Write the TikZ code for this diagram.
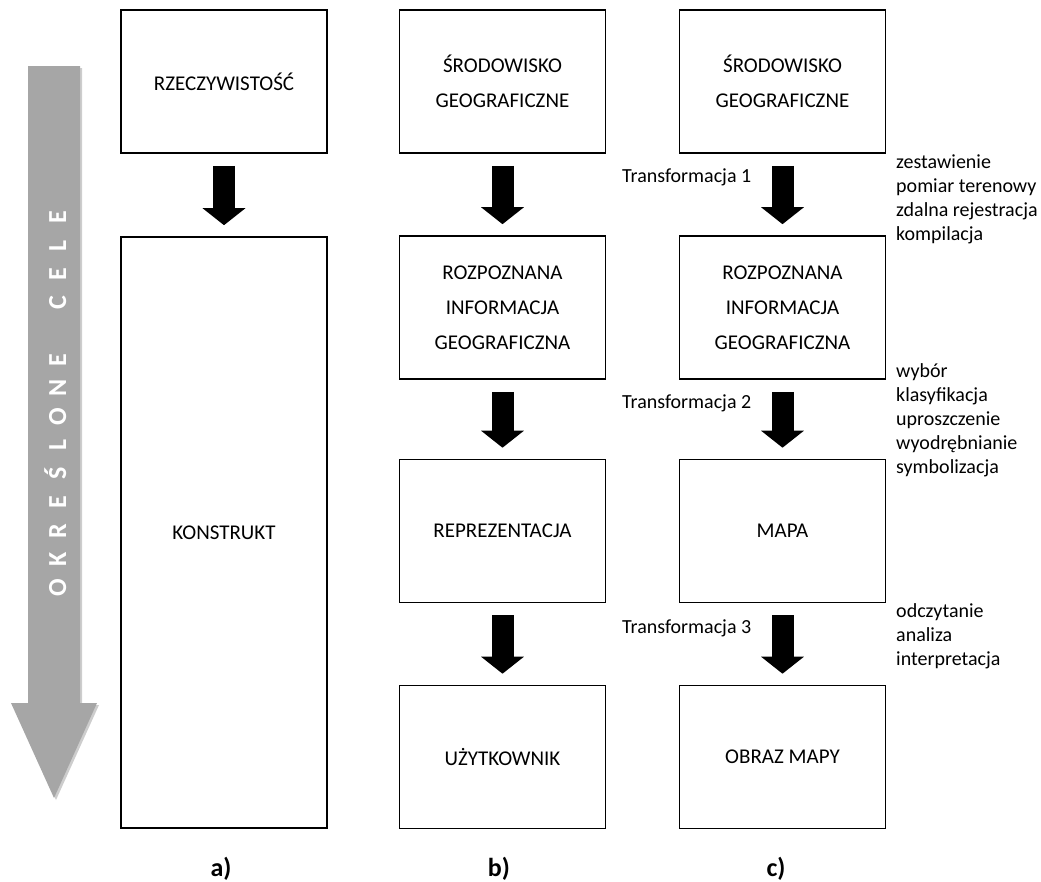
\documentclass[tikz,border=0pt]{standalone}
\usepackage{fontspec}
\setmainfont{Carlito}
\usetikzlibrary{arrows.meta}
\definecolor{goalgray}{HTML}{A6A6A6}
\definecolor{goalshade}{HTML}{CDCDCD}
\tikzset{
  box/.style={draw=black, line width=1.6pt, minimum width=206pt, minimum height=143pt,
    align=center, inner sep=0pt, font=\fontsize{21}{35}\selectfont},
  blockarrow/.style={line width=22pt, -{Triangle[width=42pt,length=17pt]},
    shorten <=12pt, shorten >=11pt},
  trlabel/.style={anchor=base west, inner sep=0pt, font=\fontsize{20}{24}\selectfont},
  steps/.style={anchor=base west, align=left, inner sep=0pt, font=\fontsize{20}{24}\selectfont},
  panel/.style={anchor=north, inner sep=0pt, font=\bfseries\fontsize{26}{30}\selectfont},
  goalletter/.style={rotate=90, anchor=base, inner sep=0pt, text=white,
    font=\bfseries\fontsize{26}{30}\selectfont}
}
\begin{document}
\begin{tikzpicture}[x=1pt,y=-1pt]
  \useasboundingbox (0,0) rectangle (1041,881);

  % large grey arrow with its light shadow
  \fill[goalshade] (30,68) -- (82,68) -- (82,705) -- (99,705) -- (56,800) -- (13,705) -- (30,705) -- cycle;
  \fill[goalgray] (28,66) -- (80,66) -- (80,703) -- (97,703) -- (54,798) -- (11,703) -- (28,703) -- cycle;
  \foreach \ch/\i in {O/0,K/1,R/2,E/3,Ś/4,L/5,O/6,N/7,E/8,C/10,E/11,L/12,E/13}
    \node[goalletter] (g\i) at (66,{588-\i*28.54}) {\ch};

  % column a
  \node[box] (a1) at (224,81.5) {RZECZYWISTOŚĆ};
  \node[box, minimum height=591pt] (a2) at (224,532.5) {KONSTRUKT};

  % column b
  \node[box] (b1) at (502.5,81.5) {ŚRODOWISKO\\GEOGRAFICZNE};
  \node[box] (b2) at (502.5,307.5) {ROZPOZNANA\\INFORMACJA\\GEOGRAFICZNA};
  \node[box] (b3) at (502.5,531) {REPREZENTACJA};
  \node[box] (b4) at (502.5,757) {UŻYTKOWNIK};

  % column c
  \node[box] (c1) at (782.5,81.5) {ŚRODOWISKO\\GEOGRAFICZNE};
  \node[box] (c2) at (782.5,307.5) {ROZPOZNANA\\INFORMACJA\\GEOGRAFICZNA};
  \node[box] (c3) at (782.5,531) {MAPA};
  \node[box] (c4) at (782.5,757) {OBRAZ MAPY};

  % block arrows
  \draw[blockarrow] (a1) -- (a2.north);
  \draw[blockarrow] (b1) -- (b2);
  \draw[blockarrow] (b2) -- (b3);
  \draw[blockarrow] (b3) -- (b4);
  \draw[blockarrow] (c1) -- (c2);
  \draw[blockarrow] (c2) -- (c3);
  \draw[blockarrow] (c3) -- (c4);

  % transformation labels
  \node[trlabel] (t1) at (622,182) {Transformacja 1};
  \node[trlabel] (t2) at (622,408) {Transformacja 2};
  \node[trlabel] (t3) at (622,633) {Transformacja 3};

  % operations of each transformation (placed by the baseline of the last line)
  \node[steps] (s1) at (896,240) {zestawienie\\pomiar terenowy\\zdalna rejestracja\\kompilacja};
  \node[steps] (s2) at (896,473) {wybór\\klasyfikacja\\uproszczenie\\wyodrębnianie\\symbolizacja};
  \node[steps] (s3) at (896,665) {odczytanie\\analiza\\interpretacja};

  % panel captions
  \node[panel] (pa) at (221,857) {a)};
  \node[panel] (pb) at (499,857) {b)};
  \node[panel] (pc) at (776,857) {c)};
\end{tikzpicture}
\end{document}
